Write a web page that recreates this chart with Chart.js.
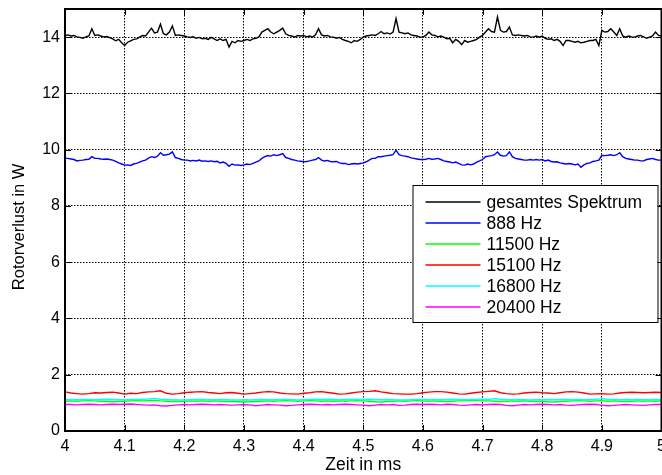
<!DOCTYPE html>
<html>
<head>
<meta charset="utf-8">
<script src="https://cdn.jsdelivr.net/npm/chart.js@4/dist/chart.umd.min.js"></script>
<style>
  html, body { margin: 0; padding: 0; background: #fff; }
  canvas { display: block; }
</style>
</head>
<body>
<canvas id="c" width="662" height="475"></canvas>
<script>
// ---------- data ----------
const seriesNames = ['gesamtes Spektrum', '888 Hz', '11500 Hz', '15100 Hz', '16800 Hz', '20400 Hz'];
const seriesColors = ['#000000', '#0000ff', '#00ff00', '#ff0000', '#00ffff', '#ff00ff'];

const xTickValues = [4, 4.1, 4.2, 4.3, 4.4, 4.5, 4.6, 4.7, 4.8, 4.9, 5];
const xTickLabels = ['4', '4.1', '4.2', '4.3', '4.4', '4.5', '4.6', '4.7', '4.8', '4.9', '5'];
const yTickValues = [0, 2, 4, 6, 8, 10, 12, 14];
const yTickLabels = ['0', '2', '4', '6', '8', '10', '12', '14'];

// sample times (ms): fine grid 0.005 ms, coarse grid 0.01 ms
const tStart = 4, tEnd = 5;
const fineStep = 0.005, coarseStep = 0.01;

// gesamtes Spektrum (sampled every 0.005 ms)
const gesamt = [
14.06,14.08,14.04,14.06,14.01,13.99,13.96,14.01,14.04,14.30,
14.06,14.08,14.04,14.01,14.02,13.98,13.94,13.87,13.92,13.80,
13.70,13.82,13.87,13.92,13.94,14.00,14.06,14.04,14.18,14.32,
14.15,14.18,14.46,14.12,14.08,14.18,14.40,14.06,14.08,14.06,
14.04,14.01,13.99,14.01,13.96,13.99,13.94,13.96,13.92,13.99,
13.94,13.88,13.94,13.88,13.92,13.65,13.85,13.80,13.88,13.85,
13.88,13.92,13.88,13.94,13.96,14.01,14.18,14.24,14.30,14.18,
14.12,14.18,14.24,14.32,14.12,14.06,14.04,14.00,14.06,14.04,
14.06,14.01,14.04,14.00,14.08,14.30,14.08,14.04,14.06,14.01,
14.00,13.96,13.99,13.92,13.88,13.85,13.80,13.88,13.85,13.92,
14.00,
14.04,14.06,14.08,14.06,14.12,14.20,14.12,14.15,14.11,14.18,
14.66,14.18,14.15,14.12,14.15,14.08,14.06,14.04,14.00,14.00,
14.06,14.18,14.08,14.06,14.01,14.04,14.00,13.94,13.96,13.80,
13.92,13.85,13.73,13.88,13.82,13.85,13.88,13.92,14.00,14.06,
14.18,14.30,14.20,14.18,14.72,14.24,14.18,14.20,14.36,14.08,
14.06,14.08,14.06,14.04,14.06,14.01,14.00,14.04,14.00,14.04,
13.96,13.92,13.94,13.88,13.92,13.85,13.70,13.88,13.88,13.85,
13.82,13.85,13.80,13.82,13.85,13.88,13.88,13.92,13.70,14.24,
14.18,14.20,14.30,14.18,14.06,14.30,14.04,14.00,14.04,14.01,
14.00,14.04,14.06,14.01,13.96,14.00,14.04,14.18,14.06,14.04
];

// 888 Hz (sampled every 0.005 ms)
const hz888 = [
9.69,9.69,9.67,9.65,9.60,9.62,9.63,9.65,9.66,9.75,
9.69,9.69,9.67,9.66,9.67,9.65,9.63,9.58,9.53,9.49,
9.45,9.46,9.44,9.49,9.51,9.56,9.60,9.63,9.70,9.75,
9.72,9.77,9.89,9.80,9.82,9.84,9.92,9.72,9.69,9.65,
9.63,9.63,9.60,9.62,9.60,9.63,9.59,9.60,9.58,9.60,
9.57,9.59,9.53,9.56,9.51,9.41,9.49,9.45,9.46,9.44,
9.46,9.49,9.47,9.51,9.56,9.60,9.69,9.75,9.79,9.77,
9.82,9.79,9.82,9.86,9.72,9.69,9.65,9.63,9.60,9.59,
9.57,9.58,9.60,9.63,9.65,9.72,9.63,9.60,9.62,9.58,
9.57,9.58,9.53,9.51,9.51,9.47,9.49,9.51,9.49,9.51,
9.53,
9.57,9.63,9.69,9.69,9.75,9.75,9.77,9.79,9.80,9.82,
9.98,9.82,9.79,9.77,9.75,9.71,9.69,9.67,9.65,9.65,
9.66,9.69,9.66,9.67,9.69,9.65,9.60,9.58,9.56,9.53,
9.56,9.51,9.46,9.45,9.49,9.46,9.49,9.56,9.60,9.65,
9.75,9.77,9.79,9.82,9.92,9.80,9.77,9.79,9.92,9.75,
9.69,9.67,9.65,9.63,9.63,9.65,9.63,9.65,9.63,9.65,
9.60,9.63,9.58,9.56,9.57,9.53,9.51,9.49,9.51,9.49,
9.46,9.49,9.37,9.46,9.51,9.53,9.58,9.60,9.63,9.80,
9.79,9.80,9.82,9.79,9.82,9.89,9.75,9.69,9.67,9.65,
9.63,9.63,9.60,9.60,9.65,9.67,9.69,9.65,9.63,9.63
];

// 11500 Hz (every 0.01 ms)
const hz11500 = [
1.06,1.07,1.06,1.07,1.08,1.07,1.06,1.05,1.04,1.05,
1.06,1.07,1.08,1.07,1.08,1.09,1.07,1.06,1.05,1.05,
1.06,1.07,1.06,1.07,1.06,1.07,1.06,1.05,1.05,1.04,
1.03,1.04,1.05,1.06,1.07,1.06,1.07,1.08,1.07,1.06,
1.07,1.08,1.07,1.06,1.07,1.06,1.07,1.06,1.07,1.08,
1.07,1.06,1.04,1.03,1.05,1.06,1.07,1.06,1.07,1.08,
1.07,1.06,1.07,1.06,1.05,1.06,1.07,1.08,1.09,1.08,
1.07,1.07,1.06,1.05,1.06,1.07,1.06,1.07,1.06,1.05,
1.06,1.04,1.03,1.05,1.06,1.07,1.08,1.07,1.06,1.07,
1.08,1.06,1.07,1.06,1.05,1.06,1.07,1.06,1.07,1.06,1.07
];

// 15100 Hz (every 0.01 ms)
const hz15100 = [
1.39,1.35,1.33,1.31,1.33,1.36,1.35,1.37,1.38,1.35,
1.31,1.34,1.33,1.37,1.39,1.40,1.43,1.34,1.31,1.33,
1.36,1.38,1.39,1.40,1.37,1.35,1.33,1.36,1.37,1.34,
1.31,1.33,1.35,1.38,1.40,1.39,1.35,1.33,1.32,1.31,
1.34,1.36,1.39,1.40,1.37,1.34,1.31,1.32,1.35,1.38,
1.40,1.41,1.43,1.39,1.36,1.33,1.32,1.31,1.31,1.33,
1.36,1.38,1.40,1.40,1.38,1.35,1.32,1.31,1.34,1.37,
1.39,1.41,1.43,1.36,1.33,1.31,1.32,1.35,1.37,1.38,
1.36,1.35,1.33,1.36,1.39,1.40,1.38,1.35,1.31,1.32,
1.33,1.31,1.32,1.35,1.37,1.38,1.37,1.36,1.37,1.38,1.37
];

// 16800 Hz (every 0.01 ms)
const hz16800 = [
1.11,1.12,1.11,1.12,1.12,1.11,1.12,1.13,1.12,1.11,
1.11,1.12,1.12,1.13,1.14,1.16,1.13,1.12,1.11,1.10,
1.10,1.11,1.12,1.12,1.11,1.11,1.12,1.11,1.10,1.10,
1.11,1.10,1.11,1.12,1.11,1.11,1.12,1.12,1.11,1.10,
1.11,1.12,1.13,1.12,1.13,1.12,1.11,1.12,1.13,1.12,
1.12,1.13,1.12,1.11,1.12,1.11,1.10,1.10,1.11,1.12,
1.12,1.11,1.12,1.11,1.12,1.13,1.12,1.11,1.12,1.12,
1.13,1.12,1.15,1.13,1.12,1.11,1.12,1.11,1.10,1.11,
1.11,1.12,1.11,1.12,1.12,1.11,1.12,1.11,1.12,1.13,
1.15,1.13,1.12,1.11,1.12,1.11,1.12,1.11,1.11,1.12,1.11
];

// 20400 Hz (every 0.01 ms)
const hz20400 = [
0.94,0.94,0.93,0.94,0.95,0.94,0.93,0.94,0.95,0.94,
0.95,0.96,0.94,0.93,0.92,0.93,0.90,0.89,0.91,0.93,
0.94,0.93,0.94,0.95,0.94,0.93,0.94,0.93,0.92,0.93,
0.94,0.93,0.90,0.92,0.94,0.93,0.92,0.90,0.91,0.93,
0.94,0.95,0.94,0.93,0.94,0.93,0.94,0.95,0.94,0.93,
0.92,0.90,0.92,0.94,0.93,0.94,0.91,0.92,0.94,0.95,
0.94,0.95,0.94,0.93,0.95,0.94,0.92,0.91,0.93,0.94,
0.93,0.94,0.95,0.94,0.91,0.90,0.92,0.94,0.93,0.94,
0.95,0.94,0.93,0.94,0.92,0.91,0.93,0.94,0.95,0.94,
0.92,0.90,0.91,0.93,0.94,0.93,0.92,0.91,0.93,0.94,0.94
];

const seriesValues = [gesamt, hz888, hz11500, hz15100, hz16800, hz20400];
const seriesSteps = [fineStep, fineStep, coarseStep, coarseStep, coarseStep, coarseStep];

// ---------- chart ----------
const FONT = "'Liberation Sans', Arial, Helvetica, sans-serif";

function toPoints(values, step) {
  return values.map((v, i) => ({ x: +(tStart + i * step).toFixed(4), y: v }));
}

const datasets = seriesValues.map((vals, i) => ({
  label: seriesNames[i],
  data: toPoints(vals, seriesSteps[i]),
  borderColor: seriesColors[i],
  backgroundColor: seriesColors[i],
  borderWidth: 1.4,
  pointRadius: 0,
  tension: 0,
  fill: false,
  order: seriesValues.length - i
}));

function zeroPad(s) {
  s.paddingLeft = 0; s.paddingRight = 0; s.paddingTop = 0; s.paddingBottom = 0;
}

const frameAndLegend = {
  id: 'frameAndLegend',
  afterDatasetsDraw(chart) {
    const { ctx, chartArea: a, scales: { x, y } } = chart;
    ctx.save();
    // inward tick marks
    ctx.strokeStyle = '#000';
    ctx.lineWidth = 1;
    ctx.setLineDash([]);
    const tl = 6;
    ctx.beginPath();
    x.ticks.forEach(t => {
      const px = Math.round(x.getPixelForValue(t.value)) + 0.5;
      ctx.moveTo(px, a.bottom); ctx.lineTo(px, a.bottom - tl);
      ctx.moveTo(px, a.top); ctx.lineTo(px, a.top + tl);
    });
    y.ticks.forEach(t => {
      const py = Math.round(y.getPixelForValue(t.value)) + 0.5;
      ctx.moveTo(a.left, py); ctx.lineTo(a.left + tl, py);
      ctx.moveTo(a.right, py); ctx.lineTo(a.right - tl, py);
    });
    ctx.stroke();
    // frame
    ctx.lineWidth = 2;
    ctx.strokeRect(a.left, a.top, a.right - a.left, a.bottom - a.top);

    // legend box
    const bx = a.right - 249, by = a.top + 176, bw = 245, bh = 137;
    ctx.fillStyle = '#fff';
    ctx.fillRect(bx, by, bw, bh);
    ctx.lineWidth = 1;
    ctx.strokeRect(bx + 0.5, by + 0.5, bw, bh);
    ctx.font = '17.5px ' + FONT;
    ctx.textBaseline = 'middle';
    ctx.textAlign = 'left';
    chart.data.datasets.forEach((ds, i) => {
      const ry = by + 17 + i * 21;
      ctx.strokeStyle = ds.borderColor;
      ctx.lineWidth = 1.3;
      ctx.beginPath();
      ctx.moveTo(bx + 13, ry); ctx.lineTo(bx + 68, ry);
      ctx.stroke();
      ctx.fillStyle = '#000';
      ctx.fillText(ds.label, bx + 74, ry + 1);
    });
    ctx.restore();
  }
};

new Chart(document.getElementById('c'), {
  type: 'line',
  data: { datasets },
  plugins: [frameAndLegend],
  options: {
    responsive: false,
    animation: false,
    events: [],
    layout: { padding: { left: 0, right: 0.5, top: 9, bottom: 0 }, autoPadding: false },
    plugins: { legend: { display: false }, tooltip: { enabled: false } },
    scales: {
      x: {
        type: 'linear', min: tStart, max: tEnd,
        afterBuildTicks: s => { s.ticks = xTickValues.map(v => ({ value: v })); },
        afterFit: s => { s.height = 44; zeroPad(s); },
        ticks: {
          callback: (v, i) => xTickLabels[i],
          padding: 6, color: '#000', maxRotation: 0, autoSkip: false,
          font: { family: FONT, size: 16 }
        },
        grid: { color: '#000', lineWidth: 1, drawTicks: false },
        border: { display: false, dash: [1.5, 1.5] },
        title: {
          display: true, text: 'Zeit in ms', color: '#000',
          font: { family: FONT, size: 17.5, lineHeight: 1 },
          padding: { top: 0, bottom: 1 }
        }
      },
      y: {
        type: 'linear', min: 0, max: 15,
        afterBuildTicks: s => { s.ticks = yTickValues.map(v => ({ value: v })); },
        afterFit: s => { s.width = 65; zeroPad(s); },
        ticks: {
          callback: (v, i) => yTickLabels[i],
          padding: 5, color: '#000', autoSkip: false,
          font: { family: FONT, size: 16 }
        },
        grid: { color: '#000', lineWidth: 1, drawTicks: false },
        border: { display: false, dash: [1.5, 1.5] },
        title: {
          display: true, text: 'Rotorverlust in W   ', color: '#000',
          font: { family: FONT, size: 16.5, lineHeight: 1 },
          padding: { top: 11, bottom: 0 }
        }
      }
    }
  }
});
</script>
</body>
</html>
